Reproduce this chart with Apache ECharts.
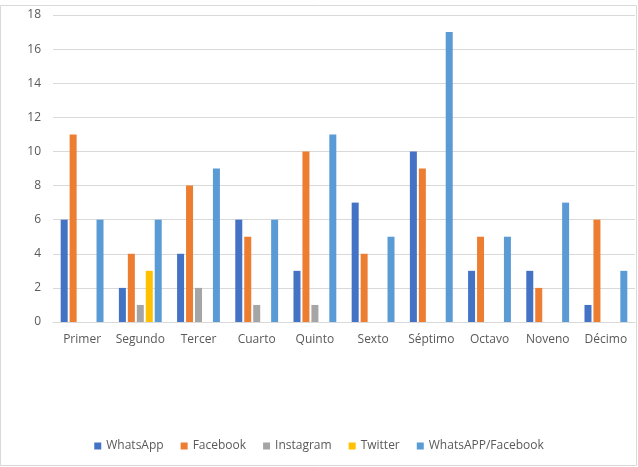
<!DOCTYPE html>
<html>
<head>
<meta charset="utf-8">
<script src="https://cdn.jsdelivr.net/npm/echarts@6/dist/echarts.min.js"></script>
<style>
  html, body { margin: 0; padding: 0; background: #fff; }
  #chart { width: 638px; height: 467px; }
</style>
</head>
<body>
<div id="chart"></div>
<script>
var categories = ["Primer", "Segundo", "Tercer", "Cuarto", "Quinto", "Sexto", "Séptimo", "Octavo", "Noveno", "Décimo"];
var whatsapp = [6, 2, 4, 6, 3, 7, 10, 3, 3, 1];
var facebook = [11, 4, 8, 5, 10, 4, 9, 5, 2, 6];
var instagram = [0, 1, 2, 1, 1, 0, 0, 0, 0, 0];
var twitter = [0, 3, 0, 0, 0, 0, 0, 0, 0, 0];
var waFb = [6, 6, 9, 6, 11, 5, 17, 5, 7, 3];

var textColor = "#595959";
var font = "Open Sans";

function bar(name, data, color) {
  return {
    name: name,
    type: "bar",
    data: data,
    barWidth: 7,
    barGap: "28%",
    itemStyle: { color: color }
  };
}

var chart = echarts.init(document.getElementById("chart"));
chart.setOption({
  animation: false,
  textStyle: { fontFamily: font },
  graphic: [{
    type: "rect",
    shape: { x: 0.5, y: 5.5, width: 636, height: 460 },
    style: { fill: "none", stroke: "#d9d9d9", lineWidth: 1 },
    silent: true
  }],
  grid: { left: 53, right: 3, top: 15, bottom: 145 },
  legend: {
    bottom: 10,
    left: "center",
    itemWidth: 7,
    itemHeight: 7,
    itemGap: 17,
    icon: "rect",
    textStyle: { color: textColor, fontSize: 12, fontFamily: font }
  },
  xAxis: {
    type: "category",
    data: categories,
    axisTick: { show: false },
    axisLine: { lineStyle: { color: "#d9d9d9" } },
    axisLabel: { color: textColor, fontSize: 12, margin: 12, interval: 0 }
  },
  yAxis: {
    type: "value",
    min: 0,
    max: 18,
    interval: 2,
    axisLine: { show: false },
    axisTick: { show: false },
    axisLabel: { color: textColor, fontSize: 12, margin: 12 },
    splitLine: { lineStyle: { color: "#d9d9d9" } }
  },
  series: [
    bar("WhatsApp", whatsapp, "#4472C4"),
    bar("Facebook", facebook, "#ED7D31"),
    bar("Instagram", instagram, "#A5A5A5"),
    bar("Twitter", twitter, "#FFC000"),
    bar("WhatsAPP/Facebook", waFb, "#5B9BD5")
  ]
});
</script>
</body>
</html>
